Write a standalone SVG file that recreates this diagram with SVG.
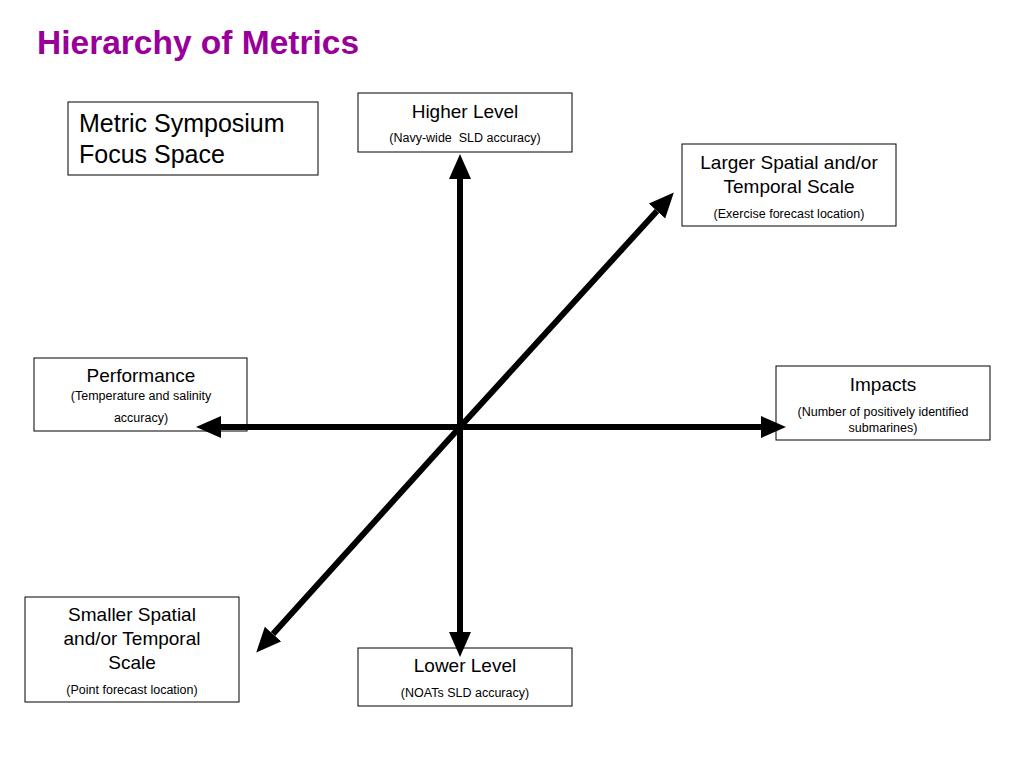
<svg xmlns="http://www.w3.org/2000/svg" width="1024" height="768" viewBox="0 0 1024 768">
<style>
.box{fill:#fff;stroke:#000;stroke-width:1}
.t{font-family:"Liberation Sans",Arial,sans-serif;fill:#000;text-anchor:middle}
.big{font-size:19px}
.sm{font-size:12.5px}
.ax{stroke:#000;stroke-width:6;fill:none;marker-end:url(#ah)}
</style>
<defs>
<marker id="ah" markerUnits="userSpaceOnUse" markerWidth="26" markerHeight="24" refX="0" refY="11" orient="auto">
<path d="M0,0 L25,11 L0,22 z" fill="#000"/>
</marker>
</defs>
<rect width="1024" height="768" fill="#fff"/>
<text x="37" y="54" font-family="Liberation Sans,Arial,sans-serif" font-size="33.5" font-weight="bold" fill="#990099">Hierarchy of Metrics</text>
<g id="focus">
<rect class="box" x="68" y="102" width="250" height="73"/>
<text x="79" y="132" font-family="Liberation Sans,Arial,sans-serif" font-size="25">Metric Symposium</text>
<text x="79" y="163" font-family="Liberation Sans,Arial,sans-serif" font-size="25">Focus Space</text>
</g>
<g id="higher">
<rect class="box" x="358" y="93" width="214" height="59"/>
<text class="t big" x="465" y="118">Higher Level</text>
<text class="t sm" x="465" y="142" xml:space="preserve">(Navy-wide  SLD accuracy)</text>
</g>
<g id="larger">
<rect class="box" x="682" y="144" width="214" height="82"/>
<text class="t big" x="789" y="169">Larger Spatial and/or</text>
<text class="t big" x="789" y="193">Temporal Scale</text>
<text class="t sm" x="789" y="218">(Exercise forecast location)</text>
</g>
<g id="performance">
<rect class="box" x="34" y="358" width="213" height="73"/>
<text class="t big" x="141" y="382">Performance</text>
<text class="t sm" x="141" y="400">(Temperature and salinity</text>
<text class="t sm" x="141" y="422">accuracy)</text>
</g>
<g id="impacts">
<rect class="box" x="776" y="366" width="214" height="74"/>
<text class="t big" x="883" y="391">Impacts</text>
<text class="t sm" x="883" y="416">(Number of positively identified</text>
<text class="t sm" x="883" y="432">submarines)</text>
</g>
<g id="smaller">
<rect class="box" x="25" y="597" width="214" height="105"/>
<text class="t big" x="132" y="621">Smaller Spatial</text>
<text class="t big" x="132" y="645">and/or Temporal</text>
<text class="t big" x="132" y="669">Scale</text>
<text class="t sm" x="132" y="694">(Point forecast location)</text>
</g>
<g id="lower">
<rect class="box" x="358" y="648" width="214" height="58"/>
<text class="t big" x="465" y="672">Lower Level</text>
<text class="t sm" x="465" y="697">(NOATs SLD accuracy)</text>
</g>
<g id="connectors">
<line class="ax" x1="460" y1="427" x2="460" y2="179"/>
<line class="ax" x1="460" y1="427" x2="460" y2="632"/>
<line class="ax" x1="460" y1="427" x2="221" y2="427"/>
<line class="ax" x1="460" y1="427" x2="761" y2="427"/>
<line class="ax" x1="460" y1="427" x2="657" y2="211"/>
<line class="ax" x1="460" y1="427" x2="273" y2="634"/>
</g>
</svg>
